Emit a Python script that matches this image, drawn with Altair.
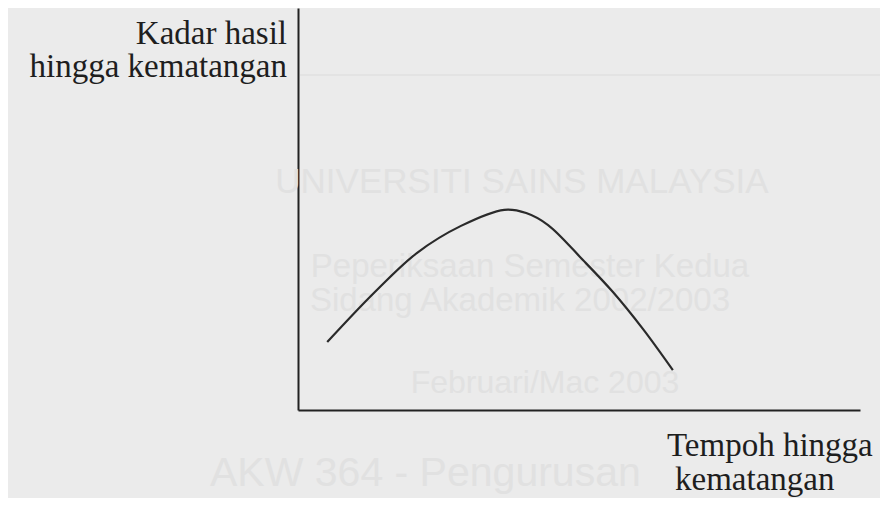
import altair as alt
import pandas as pd

# Curve (arbitrary units, 0-100 on each axis)
tempoh = [5.2, 13.5, 21.2, 29.0, 36.7, 40.6, 44.5, 50.7, 56.0, 61.4, 66.7]
kadar = [16.9, 29.1, 39.1, 45.8, 49.8, 49.0, 46.0, 37.3, 29.4, 20.1, 9.9]

y_label_lines = ["Kadar hasil", "hingga kematangan"]
x_label_lines = ["Tempoh hingga", "kematangan"]

# faint show-through text from the scanned page
ghost_lines = [
    "UNIVERSITI SAINS MALAYSIA",
    "Peperiksaan Semester Kedua",
    "Sidang Akademik 2002/2003",
    "Februari/Mac 2003",
    "AKW 364  -  Pengurusan",
]

df = pd.DataFrame({"tempoh": tempoh, "kadar": kadar})

BG = "#ebebeb"
INK = "#1e1e1e"
GHOST = "#e1e1e1"

axis_style = dict(domain=True, ticks=False, labels=False, grid=False, title=None,
                  domainColor="#222222", domainWidth=2)

curve = alt.Chart(df).mark_line(color="#2a2a2a", strokeWidth=2.2, interpolate="catmull-rom").encode(
    x=alt.X("tempoh:Q", scale=alt.Scale(domain=[0, 100], nice=False, zero=False), axis=alt.Axis(**axis_style)),
    y=alt.Y("kadar:Q", scale=alt.Scale(domain=[0, 100], nice=False, zero=False), axis=alt.Axis(**axis_style)),
)


def text_layer(label, x, y, size, color, font, align):
    return alt.Chart(alt.Data(values=[{"t": label}])).mark_text(
        align=align, baseline="alphabetic", fontSize=size, font=font, color=color
    ).encode(x=alt.value(x), y=alt.value(y), text="t:N")


ghost_specs = [
    (224, 185, 35, "center"),
    (232, 269, 33, "center"),
    (222, 303, 33, "center"),
    (247, 385, 32, "center"),
    (-88, 478, 41, "left"),
]
ghosts = [text_layer(t, x, y, s, GHOST, "Liberation Sans", a)
          for t, (x, y, s, a) in zip(ghost_lines, ghost_specs)]

ghost_rule = alt.Chart(alt.Data(values=[{"a": 1}])).mark_rule(color="#e3e3e3", strokeWidth=2).encode(
    x=alt.value(2), x2=alt.value(590), y=alt.value(67)
)

labels = [
    text_layer(y_label_lines[0], -11, 36, 33, INK, "Liberation Serif", "right"),
    text_layer(y_label_lines[1], -11, 69, 33, INK, "Liberation Serif", "right"),
    text_layer(x_label_lines[0], 369, 448, 33, INK, "Liberation Serif", "left"),
    text_layer(x_label_lines[1], 377, 482, 33, INK, "Liberation Serif", "left"),
]

chart = alt.layer(ghost_rule, *ghosts, curve, *labels).properties(
    width=562,
    height=402,
    background=BG,
    padding={"left": 290, "top": 0, "right": 20, "bottom": 88},
    autosize=alt.AutoSizeParams(type="none"),
).configure_view(stroke=None)

chart.save("out.html", embed_options={"renderer": "svg", "actions": False})
